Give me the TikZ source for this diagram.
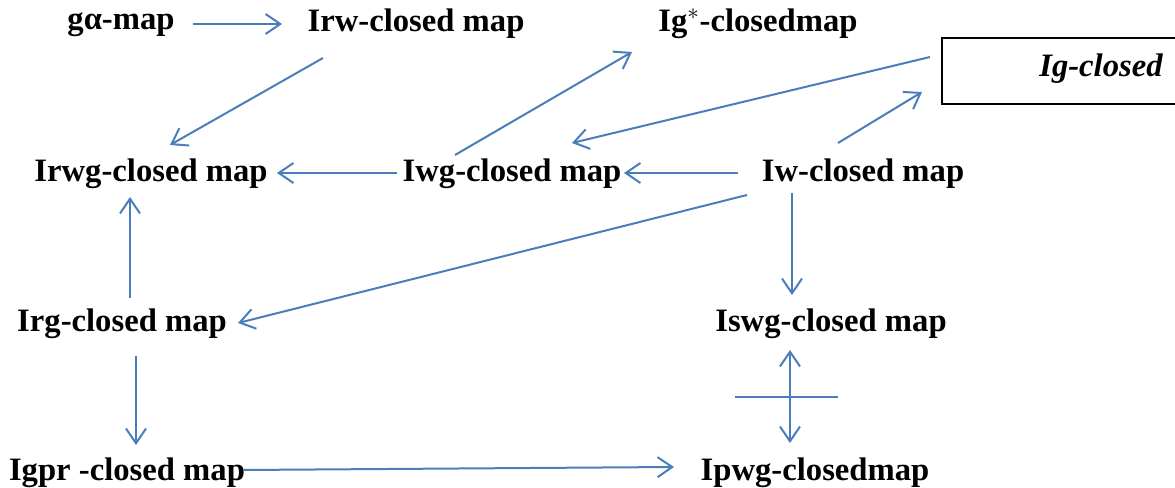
\documentclass[tikz,border=0pt]{standalone}
\usepackage{fontspec}
\setmainfont{Liberation Serif}
\usetikzlibrary{calc,arrows.meta}
\definecolor{arrowblue}{HTML}{4A7EBB}
\begin{document}
\begin{tikzpicture}[x=0.75pt,y=-0.75pt,
  lbl/.style={font=\fontsize{24.5}{28}\selectfont\bfseries, inner sep=0pt, anchor=base},
  tip/.tip={Straight Barb[length=11pt,width=15pt,line width=1.5pt]},
  conn/.style={draw=arrowblue, line width=1.5pt, -tip},
  bconn/.style={draw=arrowblue, line width=1.5pt, tip-tip},
  plain/.style={draw=arrowblue, line width=1.5pt}]
\useasboundingbox (0,0) rectangle (1175,488);
\node[lbl] (ga) at (121,30) {gα-map};
\node[lbl] (irw) at (416,32) {Irw-closed map};
\node[lbl] (igs) at (758,32) {Ig$^{*}$-closedmap};
\node[draw=black, line width=0.9pt, minimum width=180pt, minimum height=49.5pt, inner sep=0pt] (igbox) at (1062,71) {};
\node[lbl, font=\fontsize{24.5}{28}\selectfont\bfseries\itshape] (igt) at (1101,77) {Ig-closed};
\node[lbl] (irwg) at (151,182) {Irwg-closed map};
\node[lbl] (iwg) at (512,182) {Iwg-closed map};
\node[lbl] (iw) at (863,182) {Iw-closed map};
\node[lbl] (irg) at (122,332) {Irg-closed map};
\node[lbl] (iswg) at (831,332) {Iswg-closed map};
\node[lbl] (igpr) at (127,480) {Igpr -closed map};
\node[lbl] (ipwg) at (815,480) {Ipwg-closedmap};

\draw[conn] ($(ga.base)+(72,-6)$) -- ($(irw.base)+(-134,-8)$);
\draw[conn] ($(irw.base)+(-93,26)$) -- ($(irwg.base)+(19,-37)$);
\draw[conn] ($(iwg.base)+(-57,-27)$) -- ($(igs.base)+(-126,20)$);
\draw[conn] ($(igbox)+(-132,-14)$) -- ($(iwg.base)+(60,-39)$);
\draw[conn] ($(iw.base)+(-25,-39)$) -- ($(igbox)+(-140,21)$);
\draw[conn] ($(iwg.base)+(-115,-9)$) -- ($(irwg.base)+(126,-9)$);
\draw[conn] ($(iw.base)+(-125,-9)$) -- ($(iwg.base)+(112,-9)$);
\draw[conn] ($(iw.base)+(-116,13)$) -- ($(irg.base)+(116,-9)$);
\draw[conn] ($(iw.base)+(-71,11)$) -- ($(iswg.base)+(-39,-37)$);
\draw[conn] ($(irg.base)+(8,-34)$) -- ($(irwg.base)+(-21,15)$);
\draw[conn] ($(irg.base)+(14,24)$) -- ($(igpr.base)+(9,-35)$);
\draw[conn] ($(igpr.base)+(116,-10)$) -- ($(ipwg.base)+(-141,-13)$);
\draw[bconn] ($(iswg.base)+(-41,18)$) -- ($(ipwg.base)+(-25,-37)$);
\coordinate (crossL) at ($(iswg.base)+(-96,65)$);
\coordinate (crossR) at ($(iswg.base)+(7,65)$);
\draw[plain] (crossL) -- (crossR);
\end{tikzpicture}
\end{document}
